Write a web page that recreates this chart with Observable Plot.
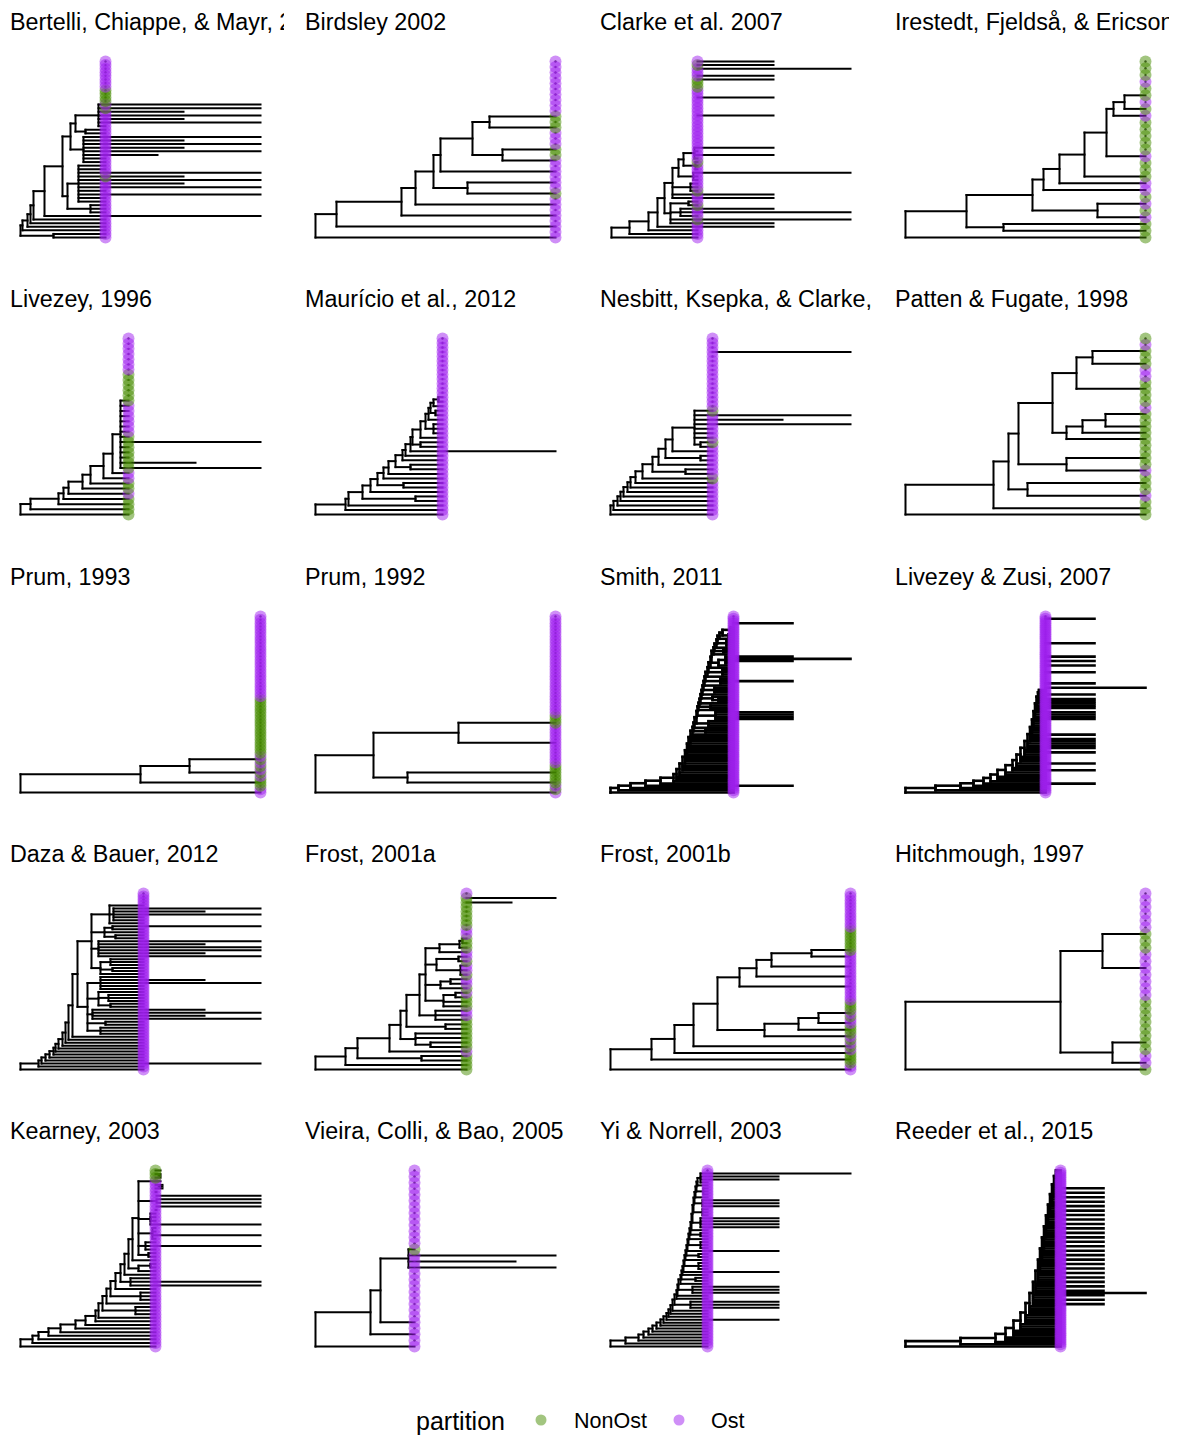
<!DOCTYPE html>
<html><head><meta charset="utf-8">
<script src="https://cdn.jsdelivr.net/npm/d3@7"></script>
<script src="https://cdn.jsdelivr.net/npm/@observablehq/plot@0.6"></script>
<style>
body{margin:0;background:#fff;font-family:"Liberation Sans",Arial,sans-serif;}
#wrap{position:relative;width:1185px;height:1441px;overflow:hidden;background:#fff;}
.title{position:absolute;font-size:23.3px;line-height:28px;color:#000;white-space:nowrap;overflow:hidden;width:274px;}
.panel{position:absolute;}
.legend{position:absolute;top:1405px;left:0;width:1185px;height:36px;}
.legend span{position:absolute;white-space:nowrap;color:#000;}
</style></head><body><div id="wrap"></div>
<script>
// ---------------- DATA ----------------
// panel titles as they show in the strips (long ones are cut at the strip edge)
const titles = [
  "Bertelli, Chiappe, & Mayr, 2", "Birdsley 2002", "Clarke et al. 2007", "Irestedt, Fjeldså, & Ericson",
  "Livezey, 1996", "Maurício et al., 2012", "Nesbitt, Ksepka, & Clarke,", "Patten & Fugate, 1998",
  "Prum, 1993", "Prum, 1992", "Smith, 2011", "Livezey & Zusi, 2007",
  "Daza & Bauer, 2012", "Frost, 2001a", "Frost, 2001b", "Hitchmough, 1997",
  "Kearney, 2003", "Vieira, Colli, & Bao, 2005", "Yi & Norrell, 2003", "Reeder et al., 2015"
];

// depth (from root) at which the tips sit, per panel
const tipDepths = [85, 240, 87, 240, 108, 127, 102, 240, 240, 240, 123, 140, 123, 151, 240, 240, 135, 99, 97, 155];

// Trees: Newick-like, each number after ':' is the node depth from the root.
// "<d1 d2 ...|X>" is a ladder (each step adds the lower child, or the children in {...}).
// "*n" = n tips with no drawn branch; ';' separates detached groups of tips.
const trees = [
  "((,):33,<2 7 10 13|(:240,(((,,):70,(,,:240,,:240,:163,:240,:163,:240,,):58):47,((,,:137,:240,:163,:240,:163,:240):63,((,):65,(,:240,:163,:240,:163,:240,:240):78):55):50):42):24>):0;(*12):85",
  "(,*,(,*,(,*,(,*,((,*,):152,*,(,*,((,*,):187,*3,(,*,):174):157):125):118):100):86):21,*10):0",
  "<1 19 38 47{:163}|((:163,:240,(,:240,:163):70,(,):78):60,(:163,:163,(,,):80,((,,:240):83,((,,):85,(,:163,,:163):84):73):68):62):54>;(,,,,,,,,:163,,,,,:163,,,,,:163,:163,,:240,:163,:163):87",
  "(,((,):98,((,*,):192,*,(,(,(,*2,(,*5,(,(,*,):219):208):201):179):154):138):127):61,*5):0",
  "<0 10 38 43 48 62 70 83 92|(:240,:175,,,,:240,,,,,,,,,*12):100>",
  "<0 30 33 47{(,):100} 55 62{(,):88} 68 73 80{(,):95} 87 90 95{:240} 97{(,):105} 105 110{(,,):118} 113|((,):120,(,(,):123):118):115>;(*13):127",
  "<0 3 7 10 13 17 20 25 32 42{(,):75} 48 55{(,):90} 62|((,):90,,,,:240,:172,:240,):84>;(*12,:240,*3):102",
  "(,(,*,((,*,):122,*,((,*,):161,*2,((,(,(,*,):200):177):161,*3,(,*3,(,*,):187):171):147):113):103):88,*2):0",
  "(,*2,(,*2,(,*3,):169):120,*43):0",
  "(,*2,((,*2,):92,*8,(,*5,):143):58,*32):0",
  "<0 8 20 35{:182} 50 63 66{,} 69{,} 72{,,} 74.5{,,} 76.5{,,} 78{,,} 80{,,,} 82 83{(,):95} 84 86{(,,):98} 87{(:182,:182,:182,:182):105} 88 89{(,):100} 90 91{((,):108,):102} 92 93{(,,):104} 94 95{(,:182,):110} 97 98{(,,):112} 100 101{(,(,:182,:240,:182):115):108} 103 104{(,):113} 106 107{(,,):116} 109|((,):118,(,,):120):112>;(*,:182,*3):123",
  "<0 30 55 68 78{:189} 85 92{,} 100{,} 107{:189,} 111{,:189} 115{,,} 119{,:189,} 122{:189,:189,:189} 124.5{:189,:189,} 126.5{:189,,} 128{,,,} 129.5{:189,:189,:189,:189} 131{,:189,:189,:189} 132.5{:189,:189,} 133.5{:189,}|>;(:240,*,:189,*4,:189,*2,:189,*,:189,*,:189,*5,:189,*10,:189,*):140",
  "<0 18 21{:240} 25 29 33 35 38 42 45 48 52|(((,,):80,(,):85,(:240,:184,:240,:184):72,((,):90,(,,):88,):78,(,,:240,:184,):80):67,((,(,):92,(,,):90):80,(:240,:184,:240,:240,:184,:240):78,((,):95,,(,:240):92):84,(,(,,:240,:184,:240):93,):89):71):57>;(*4):123",
  "<0 30 42{(,):106} 74 85{((,):115,,):100} 91{(,):130} 104{(,,):120}|((,,(,):140):128,(,(,):135):125,((,,):145,(,):143):121,(,(,(,):147):144):124):110>;(*7,:196,:240,*):151",
  "(,*2,(,*,(,*,(,*2,((,*,(,*,(,*2,):208):188):154,*7,(,*2,(,*2,(,*2,(,*,):201):161):146):129):107):83):64):41,*17):0",
  "(,((,*2,):207,*10,(,*4,):197):155,*6):0",
  "<0 12 18 28 40 55 65 75 78 82{(,,):115} 86 90{(,,):120} 95 100{(:240,:240,):110} 104 108{(,(,):130):118} 112|((,):128,(,:240,):125,(,:240,,):132,(:240,,,):130,(,:240,:240,:240,:240,):136,((,):142,(,,,):140):138):118>",
  "(,*,(,*,(,*8,(:240,:200,:240,):93):65):55,*13):0",
  "<0 15 28 33 38 42 46 50 53 56{:168} 58 60 62 64{(:168,:168,:168):80} 66 67 68{(:168,:168,:168):82} 70 71{(,):85} 72 73{:168} 74{(,,):88} 75 76{(,):88} 77{:168} 78{(,,):90} 79 80{(,):90} 81 82{(:168,:168,:168,:168):90} 83{(,,):92} 84{(:168,:168,:168):92} 85 86{(,,):93} 87|(,:168,:168,:240,*):90>",
  "<0 55 90 100{,} 108{,,} 115{,,} 120{,,,} 124{,,,} 127.5{:198,,:198,,:198} 130{:240,:198,,:198,} 132.5{:198,,:198,,:198} 134.5{,:198,,:198,} 136.5{:198,,:198,,:198} 138.5{,:198,,:198,} 140.5{:198,,:198,,:198} 142.5{,:198,,:198,} 144.5{:198,,:198,,:198} 146.5{,:198,,:198,} 148.5{:198,,:198,,} 150.5{,,,,}|>"
];

// Tip partition, bottom to top, run-length coded (N = NonOst, O = Ost)
const partitions = [
  "O17N1O18N1O1N4O8", "O8N1O6N2O3N3O10", "O5N1O3N1O3N1O7N1O20N3O3N1O1", "N3O1N1O1N1O2N3O1N5O1N1O1N2O1N3",
  "N4O1N2O2N7O6N6O7", "O40", "O8N1O7N1O6N1O16", "N3O1N3O1N9O1N4O2N3O1N1",
  "O2N3O1N1O1N1O1N1O1N17O25", "O1N1O1N6O12N3O30", "O80", "O80",
  "O60", "N4O1N7O2N3O1N1O2N1O2N1O2N3O2N7O1", "O2N4O1N1O1N1O1N3O2N1O1N3O15N7O11", "N1O2N8O7N3O6",
  "O47N3", "O16N1O13", "O60", "O80"
];

const partitionLevels = ["NonOst", "Ost"];
const partitionColors = ["#458B00", "#A020F0"];

// ---------------- PARSING / LAYOUT ----------------
function parseForest(s) {
  let i = 0;
  function num() {
    const m = /^-?\d+(\.\d+)?/.exec(s.slice(i));
    if (!m) return null;
    i += m[0].length; return +m[0];
  }
  function suffix() { if (s[i] === ":") { i++; return num(); } return null; }
  function list(close) {
    const out = [];
    for (;;) {
      out.push(...node());
      if (s[i] === ",") { i++; continue; }
      if (s[i] === close) { i++; return out; }
      throw new Error("parse error at " + i + ": " + s.slice(i, i + 15));
    }
  }
  function node() {
    if (s[i] === "(") { i++; const kids = list(")"); return [{kids, depth: suffix()}]; }
    if (s[i] === "<") {
      i++;
      const steps = [];
      for (;;) {
        while (s[i] === " ") i++;
        if (s[i] === "|") { i++; break; }
        const d = num();
        if (d === null) throw new Error("ladder error at " + i);
        let low = null;
        if (s[i] === "{") { i++; low = list("}"); }
        steps.push({d, low});
      }
      let cur = node();
      if (s[i] !== ">") throw new Error("ladder close error at " + i);
      i++;
      for (let k = steps.length - 1; k >= 0; k--) {
        const st = steps[k];
        cur = [{kids: [...(st.low || [{leaf: true, depth: null}]), ...cur], depth: st.d}];
      }
      return cur;
    }
    if (s[i] === "*") {
      i++; const n = num(); const c = n === null ? 1 : n;
      return Array.from({length: c}, () => ({leaf: true, hidden: true}));
    }
    return [{leaf: true, depth: suffix()}];
  }
  const forest = [];
  for (;;) {
    forest.push(...node());
    if (s[i] === ";") { i++; continue; }
    break;
  }
  return forest;
}

function decodeRLE(s) {
  const out = [];
  for (const m of s.matchAll(/([NO])(\d+)/g))
    for (let k = 0; k < +m[2]; k++) out.push(m[1] === "N" ? "NonOst" : "Ost");
  return out;
}

function layout(str, bar, parts) {
  const forest = parseForest(str);
  const tips = [], segs = [];
  let idx = 0;
  function walk(n) {
    if (n.leaf) {
      n.y = idx++;
      n.d = n.depth == null ? bar : n.depth;
      n.visible = !n.hidden;
      tips.push({y: n.y, hidden: !!n.hidden, depth: n.d});
      return;
    }
    n.d = n.depth == null ? bar : n.depth;
    n.kids.forEach(walk);
    const vis = n.kids.filter(k => k.visible);
    n.visible = vis.length > 0;
    if (!n.visible) return;
    const ys = vis.map(k => k.y);
    const lo = Math.min(...ys), hi = Math.max(...ys);
    n.y = (lo + hi) / 2;
    for (const k of vis) if (k.d !== n.d) segs.push({x1: n.d, x2: k.d, y1: k.y, y2: k.y});
    if (vis.length > 1 && n.d < bar - 1e-6 && hi > lo) segs.push({x1: n.d, x2: n.d, y1: lo, y2: hi});
  }
  forest.forEach(walk);
  tips.forEach((t, k) => { t.x = bar; t.partition = parts[Math.min(k, parts.length - 1)]; });
  return {tips, segs};
}

// ---------------- RENDER ----------------
const wrap = document.getElementById("wrap");
const colW = 295, rowH = 277.25;

titles.forEach((title, p) => {
  const col = p % 4, row = Math.floor(p / 4);
  const rowTop = row * rowH;
  const t = document.createElement("div");
  t.className = "title";
  t.textContent = title;
  t.style.left = (col * colW + 10) + "px";
  t.style.top = (rowTop + 8) + "px";
  wrap.appendChild(t);

  const bar = tipDepths[p];
  const {tips, segs} = layout(trees[p], bar, decodeRLE(partitions[p]));
  const maxD = d3.max([bar, ...tips.map(d => d.depth)]);
  const sw = tips.length >= 80 ? 2.6 : 2;
  const chart = Plot.plot({
    width: 295, height: 230,
    marginLeft: 20, marginRight: 35, marginTop: 31, marginBottom: 23,
    x: {domain: [0, maxD], axis: null},
    y: {domain: [0, tips.length - 1], axis: null},
    color: {domain: partitionLevels, range: partitionColors},
    style: {background: "transparent", overflow: "visible"},
    marks: [
      Plot.link(segs, {x1: "x1", y1: "y1", x2: "x2", y2: "y2", stroke: "black", strokeWidth: sw, strokeLinecap: "square"}),
      Plot.dot(tips.filter(d => d.hidden), {x: "x", y: "y", r: 1.2, fill: "#333", stroke: "none"}),
      Plot.dot(tips, {x: "x", y: "y", r: 6, fill: "partition", fillOpacity: 0.5, stroke: "none"})
    ]
  });
  const holder = document.createElement("div");
  holder.className = "panel";
  holder.style.left = (col * colW) + "px";
  holder.style.top = (rowTop + 30) + "px";
  holder.appendChild(chart);
  wrap.appendChild(holder);
});

// legend
const lg = document.createElement("div");
lg.className = "legend";
function span(text, left, size) {
  const s = document.createElement("span");
  s.textContent = text; s.style.left = left + "px"; s.style.fontSize = size + "px";
  s.style.top = (17 - size * 0.6) + "px";
  lg.appendChild(s);
}
span("partition", 416, 25);
const ls = d3.create("svg").attr("width", 1185).attr("height", 36).style("position", "absolute").style("left", 0).style("top", 0);
[[541, 0], [679, 1]].forEach(([cx, k]) => {
  ls.append("circle").attr("cx", cx).attr("cy", 15).attr("r", 5.5).attr("fill", partitionColors[k]).attr("fill-opacity", 0.5);
});
lg.appendChild(ls.node());
span(partitionLevels[0], 574, 21.5);
span(partitionLevels[1], 711, 21.5);
wrap.appendChild(lg);
</script></body></html>
